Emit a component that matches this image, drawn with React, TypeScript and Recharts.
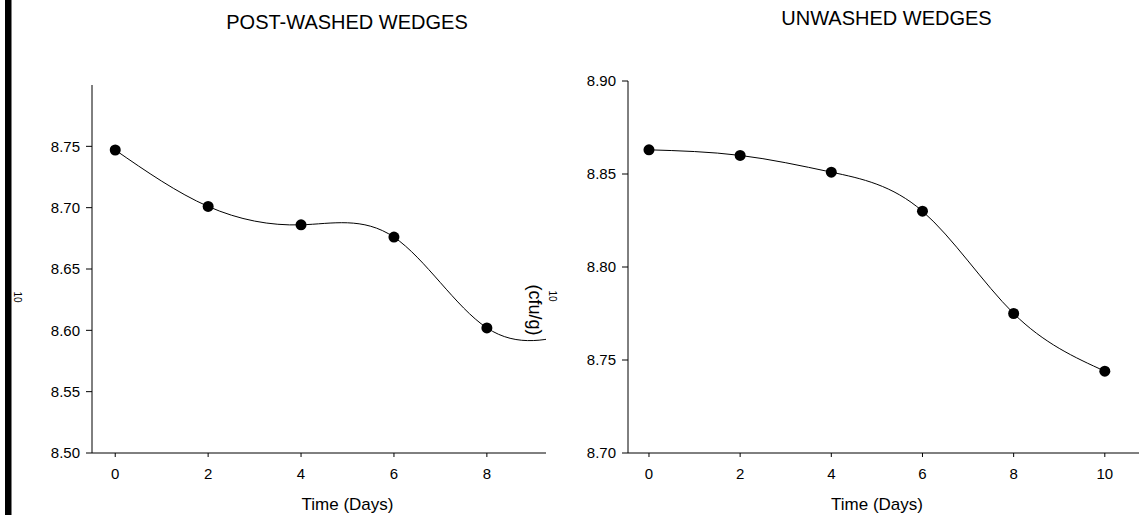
import React from 'react';
import { LineChart, Line, XAxis, YAxis, Label } from 'recharts';

// post-washed wedges (log10 cfu/g)
const postDays = [0, 2, 4, 6, 8];
const postValues = [8.747, 8.701, 8.686, 8.676, 8.602];
// where the fitted curve levels off on the right (end hidden by the right panel)
const postTailDay = 10;
const postTailValue = 8.599;
const postXTicks = [0, 2, 4, 6, 8];
const postYTicks = [8.5, 8.55, 8.6, 8.65, 8.7, 8.75];

// unwashed wedges
const unwashedDays = [0, 2, 4, 6, 8, 10];
const unwashedValues = [8.863, 8.86, 8.851, 8.83, 8.775, 8.744];
const unwashedXTicks = [0, 2, 4, 6, 8, 10];
const unwashedYTicks = [8.7, 8.75, 8.8, 8.85, 8.9];

const FONT = '"Liberation Sans", Arial, sans-serif';
const tickStyle = { fill: '#000', fontSize: 15, fontFamily: FONT };
const axisLine = { stroke: '#000', strokeWidth: 1 };

const postObs = postDays.map((d, i) => ({ day: d, v: postValues[i] }));
const postFit = [...postObs, { day: postTailDay, v: postTailValue }];
const unwashedObs = unwashedDays.map((d, i) => ({ day: d, v: unwashedValues[i] }));

const dotStyle = { r: 5.5, fill: '#000', stroke: '#000', strokeWidth: 0 };

export default function App() {
  return (
    <div
      style={{
        position: 'absolute',
        left: 0,
        top: 0,
        width: 1139,
        height: 515,
        overflow: 'hidden',
        background: '#fff',
        fontFamily: FONT,
      }}
    >
      {/* left panel */}
      <div style={{ position: 'absolute', left: 0, top: 0 }}>
        <LineChart width={603} height={515} margin={{ top: 85, right: 0, bottom: 0, left: 0 }}>
          <XAxis
            type="number"
            dataKey="day"
            domain={[-0.5, 10.5]}
            ticks={postXTicks}
            tick={tickStyle}
            tickSize={4}
            tickMargin={11}
            height={62}
            axisLine={axisLine}
            tickLine={axisLine}
            allowDataOverflow
          >
            <Label
              value="Time (Days)"
              position="insideBottom"
              offset={5.5}
              style={{ fill: '#000', fontSize: 17, fontFamily: FONT }}
            />
          </XAxis>
          <YAxis
            type="number"
            domain={[8.5, 8.8]}
            ticks={postYTicks}
            tickFormatter={(v: number) => v.toFixed(2)}
            tick={tickStyle}
            tickSize={6}
            tickMargin={6}
            width={92}
            axisLine={axisLine}
            tickLine={axisLine}
            allowDataOverflow
          />
          <Line
            data={postFit}
            dataKey="v"
            type="natural"
            stroke="#000"
            strokeWidth={1}
            dot={false}
            isAnimationActive={false}
          />
          <Line
            data={postObs}
            dataKey="v"
            stroke="none"
            dot={dotStyle}
            activeDot={false}
            isAnimationActive={false}
          />
        </LineChart>
      </div>

      {/* right panel, its white background covers the end of the left one */}
      <div style={{ position: 'absolute', left: 546, top: 0, background: '#fff' }}>
        <LineChart width={593} height={515} margin={{ top: 81, right: 0, bottom: 0, left: 0 }}>
          <XAxis
            type="number"
            dataKey="day"
            domain={[-0.46, 10.75]}
            ticks={unwashedXTicks}
            tick={tickStyle}
            tickSize={4}
            tickMargin={11}
            height={62}
            axisLine={axisLine}
            tickLine={axisLine}
            allowDataOverflow
          >
            <Label
              value="Time (Days)"
              position="insideBottom"
              offset={5.5}
              dx={-6.5}
              style={{ fill: '#000', fontSize: 17, fontFamily: FONT }}
            />
          </XAxis>
          <YAxis
            type="number"
            domain={[8.7, 8.9]}
            ticks={unwashedYTicks}
            tickFormatter={(v: number) => v.toFixed(2)}
            tick={tickStyle}
            tickSize={6}
            tickMargin={6}
            width={82}
            axisLine={axisLine}
            tickLine={axisLine}
            allowDataOverflow
          />
          <Line
            data={unwashedObs}
            dataKey="v"
            type="natural"
            stroke="#000"
            strokeWidth={1}
            dot={dotStyle}
            activeDot={false}
            isAnimationActive={false}
          />
        </LineChart>
      </div>

      {/* titles and the leftover axis-title fragments */}
      <svg
        width={1139}
        height={515}
        style={{ position: 'absolute', left: 0, top: 0, pointerEvents: 'none' }}
      >
        <rect x={5} y={0} width={6.5} height={515} fill="#000" />
        <text x={347} y={29} textAnchor="middle" fontSize={20} fontFamily={FONT} fill="#000">
          POST-WASHED WEDGES
        </text>
        <text x={886.5} y={25} textAnchor="middle" fontSize={20} fontFamily={FONT} fill="#000">
          UNWASHED WEDGES
        </text>
        <text
          x={17}
          y={297}
          textAnchor="middle"
          dominantBaseline="central"
          fontSize={10}
          fontFamily={FONT}
          fill="#000"
          transform="rotate(90 17 297)"
        >
          10
        </text>
        <text
          x={535}
          y={310}
          textAnchor="middle"
          dominantBaseline="central"
          fontSize={18}
          fontFamily={FONT}
          fill="#000"
          transform="rotate(90 535 310)"
        >
          (cfu/g)
        </text>
        <text
          x={552}
          y={296}
          textAnchor="middle"
          dominantBaseline="central"
          fontSize={10}
          fontFamily={FONT}
          fill="#000"
          transform="rotate(90 552 296)"
        >
          10
        </text>
      </svg>
    </div>
  );
}
